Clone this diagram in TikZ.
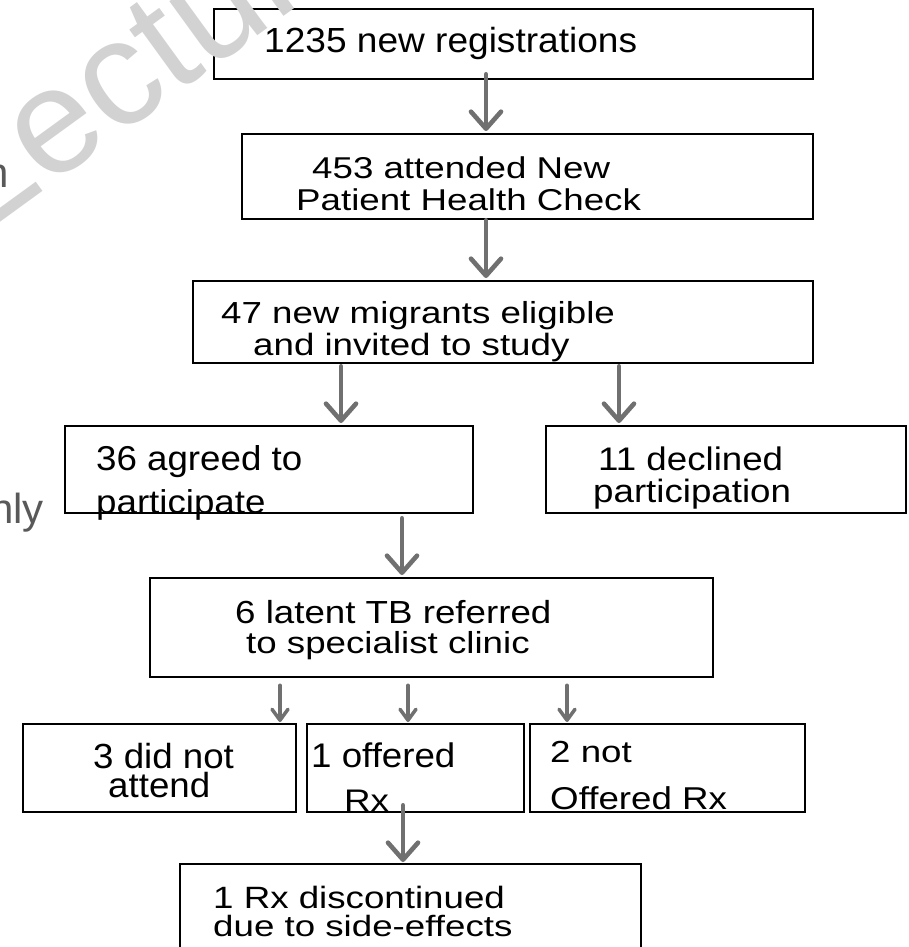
\documentclass[tikz,border=0pt]{standalone}
\usepackage{fontspec}
\setmainfont{Liberation Sans}
\usetikzlibrary{arrows.meta}
\definecolor{arrgray}{HTML}{707070}
\definecolor{wmgray}{HTML}{D2D2D2}
\definecolor{bgtext}{HTML}{595959}
\newcommand{\vsq}[3][1]{\scalebox{#1}[#2]{#3}}
\tikzset{
  box/.style={draw=black, line width=2.3pt, fill=white, inner sep=0pt, anchor=north west},
  txt/.style={inner sep=0pt, anchor=base west, font=\fontsize{36.7}{40}\selectfont},
  bigarr/.style={draw=arrgray, line width=4.6pt, line cap=round,
    -{Straight Barb[length=17pt, width=30pt, round]}},
  smallarr/.style={draw=arrgray, line width=3.5pt, line cap=round,
    -{Straight Barb[length=11pt, width=16pt, round]}},
  bgfrag/.style={inner sep=0pt, anchor=base east, text=bgtext, font=\fontsize{42}{46}\selectfont},
  wmark/.style={inner sep=0pt, anchor=base west, rotate=36, text=wmgray, font=\fontsize{150}{160}\selectfont}
}
\begin{document}
\begin{tikzpicture}[x=1pt,y=-1pt]
\useasboundingbox (0,0) rectangle (908,947);
\clip (0,0) rectangle (908,947);
\fill[white] (0,0) rectangle (908,947);

% background text fragments
\node[bgfrag] (fragn) at (9,187) {n};
\node[bgfrag] (fragnly) at (44,523) {nly};

% boxes
\node[box, minimum width=599pt, minimum height=70pt] (b1) at (213,8) {};
\node[box, minimum width=571pt, minimum height=85pt] (b2) at (241,133) {};
\node[box, minimum width=620pt, minimum height=82pt] (b3) at (192,280) {};
\node[box, minimum width=408pt, minimum height=87pt] (b4) at (64,425) {};
\node[box, minimum width=360pt, minimum height=87pt] (b5) at (545,425) {};
\node[box, minimum width=563pt, minimum height=99pt] (b6) at (149,577) {};
\node[box, minimum width=273pt, minimum height=88pt] (b7) at (22,723) {};
\node[box, minimum width=217pt, minimum height=88pt] (b8) at (306,723) {};
\node[box, minimum width=275pt, minimum height=88pt] (b9) at (529,723) {};
\node[box, minimum width=461pt, minimum height=100pt] (b10) at (179,863) {};

% texts
\node[txt] (t1) at (264,53) {\vsq[1.01]{0.95}{1235 new registrations}};
\node[txt] (t2a) at (312,178) {\vsq{0.82}{453 attended New}};
\node[txt] (t2b) at (296,210) {\vsq{0.82}{Patient Health Check}};
\node[txt] (t3a) at (221,323) {\vsq{0.83}{47 new migrants eligible}};
\node[txt] (t3b) at (253,355) {\vsq{0.84}{and invited to study}};
\node[txt] (t4a) at (96,470) {\vsq{0.94}{36 agreed to}};
\node[txt] (t4b) at (96,513) {\vsq{0.90}{participate}};
\node[txt] (t5a) at (598,470) {\vsq{0.89}{11 declined}};
\node[txt] (t5b) at (593,502) {\vsq{0.88}{participation}};
\node[txt] (t6a) at (235,623) {\vsq{0.87}{6 latent TB referred}};
\node[txt] (t6b) at (246,653) {\vsq{0.83}{to specialist clinic}};
\node[txt] (t7a) at (93,768) {\vsq{0.95}{3 did not}};
\node[txt] (t7b) at (108,797) {\vsq{0.95}{attend}};
\node[txt] (t8a) at (311,767) {\vsq{0.93}{1 offered}};
\node[txt] (t8b) at (344,811) {\vsq{0.85}{Rx}};
\node[txt] (t9a) at (550,762) {\vsq{0.83}{2 not}};
\node[txt] (t9b) at (550,809) {\vsq{0.86}{Offered Rx}};
\node[txt] (t10a) at (213,908) {\vsq{0.84}{1 Rx discontinued}};
\node[txt] (t10b) at (213,936) {\vsq{0.80}{due to side-effects}};

% arrow columns
\coordinate (x1) at (486,0);
\coordinate (x3) at (341,0);
\coordinate (x4) at (619,0);
\coordinate (x5) at (402,0);
\coordinate (x6) at (280,0);
\coordinate (x7) at (408,0);
\coordinate (x8) at (567,0);
\coordinate (x9) at (403,0);

\draw[bigarr] ([yshift=6pt]b1.south -| x1) -- ([yshift=2pt]b2.north -| x1);
\draw[bigarr] (b2.south -| x1) -- ([yshift=2pt]b3.north -| x1);
\draw[bigarr] ([yshift=-2pt]b3.south -| x3) -- ([yshift=2pt]b4.north -| x3);
\draw[bigarr] ([yshift=-2pt]b3.south -| x4) -- ([yshift=2pt]b5.north -| x4);
\draw[bigarr] ([yshift=-4pt]b4.south -| x5) -- ([yshift=2pt]b6.north -| x5);
\draw[smallarr] ([yshift=-7pt]b6.south -| x6) -- ([yshift=1pt]b7.north -| x6);
\draw[smallarr] ([yshift=-7pt]b6.south -| x7) -- ([yshift=1pt]b8.north -| x7);
\draw[smallarr] ([yshift=-7pt]b6.south -| x8) -- ([yshift=1pt]b9.north -| x8);
\draw[bigarr] ([yshift=8pt]b8.south -| x9) -- ([yshift=1pt]b10.north -| x9);

% watermark
\node[wmark] (wm) at (-21,238) {Lecture};
\end{tikzpicture}
\end{document}
